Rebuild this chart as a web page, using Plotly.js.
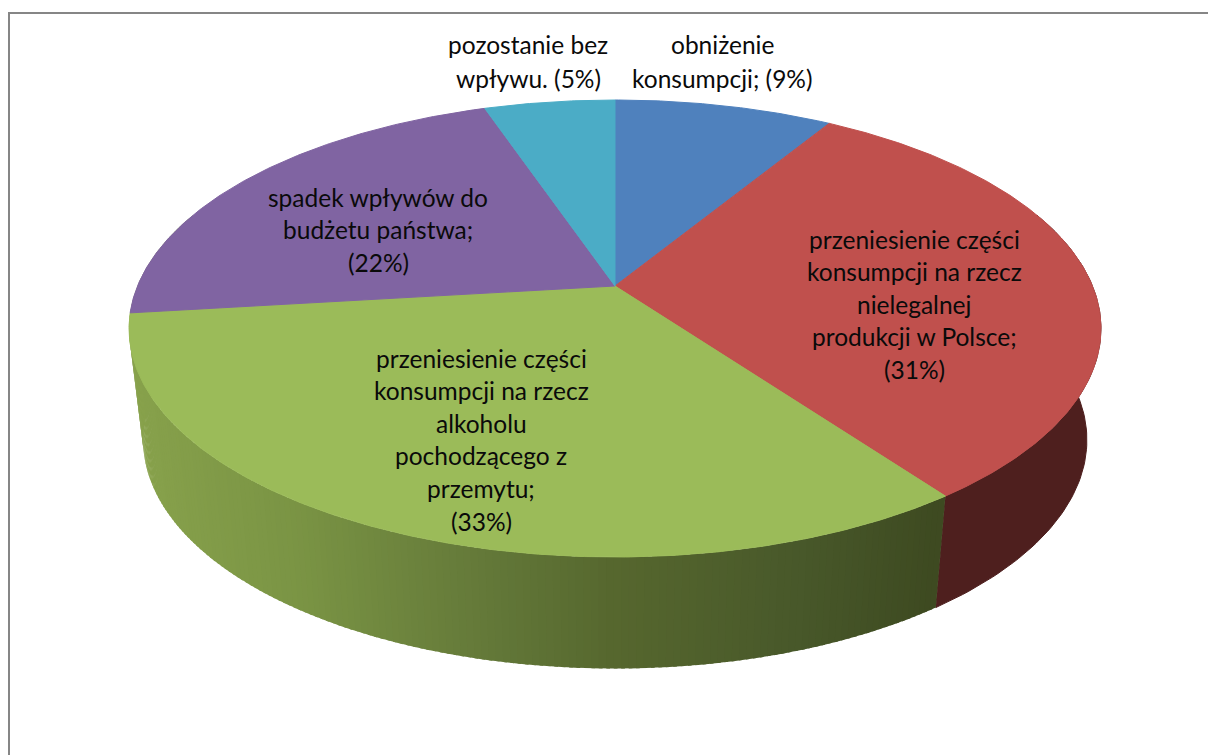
<!DOCTYPE html>
<html><head><meta charset="utf-8">
<script src="https://cdn.plot.ly/plotly-3.0.1.min.js"></script>
<style>html,body{margin:0;padding:0;background:#fff}#c{width:1208px;height:755px}</style>
</head><body><div id="c"></div>
<script>
// --- chart data ---
const sliceNames = [
  ["obniżenie", "konsumpcji;"],
  ["przeniesienie części", "konsumpcji na rzecz", "nielegalnej", "produkcji w Polsce;"],
  ["przeniesienie części", "konsumpcji na rzecz", "alkoholu", "pochodzącego z", "przemytu;"],
  ["spadek wpływów do", "budżetu państwa;"],
  ["pozostanie bez", "wpływu."]
];
const sliceValues = [8.7, 31.3, 33.1, 21.7, 5.2];
const sliceColors = ["#4f81bd", "#c0504d", "#9bbb59", "#8064a2", "#4bacc6"];

// --- drawing settings ---
const cx = 615, cy = 286;            // projected pie centre
const A = 477.5, B = 220.6, P = 0.186; // perspective of the top disc
const DEPTH = 111.5, LOWER_SCALE = 0.971;
const FONT = "Lato, 'Open Sans', sans-serif";
const FONT_SIZE = 24.5, LINE_GAP = 32.6, TOP_LABEL_GAP = 34;
const redSide = "#4e1f1e";
const greenStops = [[130,[136,162,76]],[300,[122,148,68]],[500,[98,119,56]],[615,[86,103,46]],[800,[72,88,42]],[945,[61,73,32]]];
const labelCenters = [[722,44],[914,239],[481,358],[378,197],[528,44]];
// the percentage shares the last line, or sits on its own line
const percentInline = [true,false,false,false,true];

function rim(deg, lower){
  const t = deg*Math.PI/180, u = Math.sin(t), v = Math.cos(t), d = 1+P*v;
  const X = A*u/d, Y = B*v/d;
  return lower ? [cx + X*LOWER_SCALE, cy + DEPTH - Y] : [cx + X, cy - Y];
}
function greenAt(x){
  for(let i=1;i<greenStops.length;i++){
    if(x<=greenStops[i][0]){
      const a=greenStops[i-1], b=greenStops[i], f=Math.max(0,(x-a[0])/(b[0]-a[0]));
      return "rgb("+a[1].map((c,k)=>Math.round(c+(b[1][k]-c)*f)).join(",")+")";
    }
  }
  return "rgb("+greenStops[greenStops.length-1][1].join(",")+")";
}
function poly(pts,color,w){
  const closed=pts.concat([pts[0]]);
  return {type:"scatter",mode:"lines",x:closed.map(p=>p[0]),y:closed.map(p=>p[1]),fill:"toself",fillcolor:color,
    line:{color:color,width:w===undefined?1:w},hoverinfo:"skip",showlegend:false};
}
function wall(from,to,color){
  const top=[],low=[];
  for(let d=from;d<to;d+=1){top.push(rim(d,false));low.push(rim(d,true));}
  top.push(rim(to,false));low.push(rim(to,true));
  return poly(top.concat(low.reverse()),color);
}

const total = sliceValues.reduce((a,b)=>a+b,0);
const bounds = [0];
sliceValues.forEach(v=>bounds.push(bounds[bounds.length-1]+v/total*360));

const traces = [];
// red side wall
traces.push(wall(70,bounds[2],redSide));
// green side wall: overlapping strips, far end first, so no seams show
(function(){
  const start = bounds[2], end = 290, step = 0.75;
  for(let d=end;d>start;d-=step){
    const a=Math.max(d-step,start), b=Math.min(d+step/2,end);
    const pts=[rim(a,false),rim(b,false),rim(b,true),rim(a,true)];
    traces.push(poly(pts,greenAt((pts[0][0]+pts[2][0])/2),0));
  }
})();
// top slices
sliceValues.forEach((v,i)=>{
  const pts=[[cx,cy]];
  for(let d=bounds[i];d<bounds[i+1];d+=0.5)pts.push(rim(d,false));
  pts.push(rim(bounds[i+1],false));
  traces.push(poly(pts,sliceColors[i]));
});

const annotations=[];
sliceNames.forEach((lines,i)=>{
  const pct="("+Math.round(sliceValues[i])+"%)";
  const out=lines.slice();
  if(percentInline[i]) out[out.length-1]+=" "+pct; else out.push(pct);
  const gap=percentInline[i]?TOP_LABEL_GAP:LINE_GAP;
  out.forEach((t,k)=>annotations.push({x:labelCenters[i][0],y:labelCenters[i][1]+k*gap,
    xref:"x",yref:"y",text:t,showarrow:false,xanchor:"center",yanchor:"middle",font:{family:FONT,size:FONT_SIZE,color:"#0a0a0a"}}));
});

const hidden={visible:false,fixedrange:true,autorange:false};
const layout={width:1208,height:755,margin:{l:0,r:0,t:0,b:0},paper_bgcolor:"#fff",plot_bgcolor:"#fff",showlegend:false,hovermode:false,
  xaxis:Object.assign({range:[0,1208]},hidden),yaxis:Object.assign({range:[755,0]},hidden),
  annotations:annotations,
  shapes:[
    {type:"line",xref:"x",yref:"y",x0:9,y0:13,x1:1208,y1:13,line:{color:"#868686",width:2}},
    {type:"line",xref:"x",yref:"y",x0:9,y0:12,x1:9,y1:755,line:{color:"#868686",width:2}}
  ]};
Plotly.newPlot("c",traces,layout,{staticPlot:true,displayModeBar:false});
</script></body></html>
